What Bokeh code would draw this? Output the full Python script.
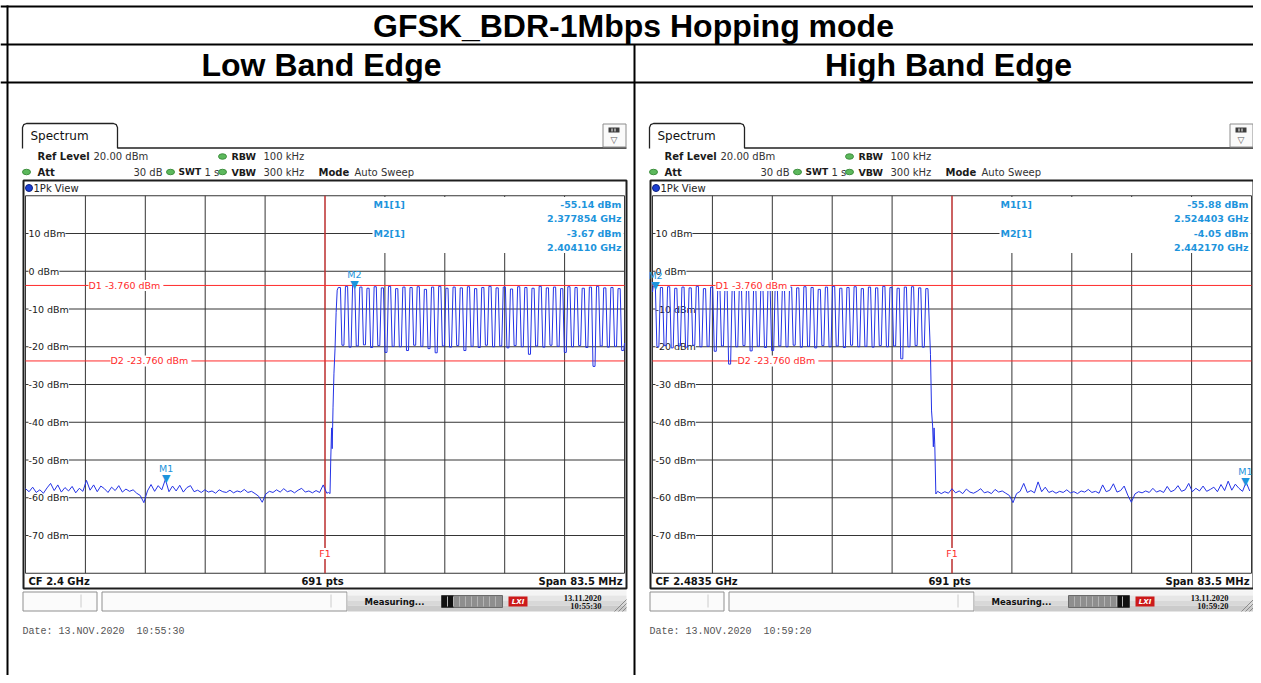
from bokeh.plotting import figure
from bokeh.models import Range1d
from bokeh.embed import file_html
from bokeh.resources import INLINE
from bokeh.core.properties import value

# ---------------- chart content / data ----------------
TITLE = "GFSK_BDR-1Mbps Hopping mode"
PANEL_TITLES = ["Low Band Edge", "High Band Edge"]

CENTER_GHZ = [2.4, 2.4835]
SPAN_GHZ = 0.0835
SWEEP_POINTS = 691
REF_LEVEL_DBM = 20.0
BOTTOM_DBM = -80.0
Y_TICKS_DBM = [10, 0, -10, -20, -30, -40, -50, -60, -70]
Y_TICK_LABELS = ["10 dBm", "0 dBm", "-10 dBm", "-20 dBm", "-30 dBm",
                 "-40 dBm", "-50 dBm", "-60 dBm", "-70 dBm"]
D1_DBM = -3.76
D2_DBM = -23.76
F1_GHZ = [2.4, 2.4835]
M1_GHZ = [2.377854, 2.524403]
M1_DBM = [-55.14, -55.88]
M2_GHZ = [2.404110, 2.442170]
M2_DBM = [-3.67, -4.05]
CF_LABELS = ["CF 2.4 GHz", "CF 2.4835 GHz"]
STATUS_DATE = "13.11.2020"
STATUS_TIMES = ["10:55:30", "10:59:20"]
PRINT_DATE = "Date: 13.NOV.2020"

# trace: low band edge (noise floor, rising edge, hopping channels)
LEFT_NOISE_START_GHZ = 2.35825
NOISE_STEP_GHZ = 0.0005
LEFT_NOISE_DBM = [
    -57.6, -58.4, -57.2, -58.6, -57.9, -58.8, -57.4, -56.2, -58.1, -56.6,
    -58.5, -57.3, -58.2, -57.0, -58.7, -57.5, -58.3, -55.4, -58.0, -56.6,
    -58.4, -56.9, -57.6, -58.6, -57.2, -58.1, -56.8, -58.5, -57.7, -58.3,
    -57.9, -58.8, -59.4, -61.3, -58.2, -56.5, -58.3, -56.8, -57.9, -55.14,
    -58.4, -56.9, -58.2, -56.7, -58.5, -57.3, -56.8, -58.4, -58.0, -58.6,
    -57.9, -58.5, -58.2, -58.8, -57.9, -58.4, -58.6, -58.0, -58.7, -58.2,
    -58.5, -57.8, -58.6, -58.3, -58.9, -59.6, -61.2, -59.0, -58.3, -58.6,
    -57.9, -58.5, -57.6, -58.4, -58.1, -58.7, -58.0, -57.5, -58.5, -58.2,
    -58.7, -58.1, -58.6, -56.6, -58.8]
LEFT_EDGE_GHZ = [2.40050, 2.40070, 2.40080, 2.40092, 2.40100, 2.40112,
                 2.40125, 2.40140, 2.40155, 2.40170]
LEFT_EDGE_DBM = [-58.6, -58.9, -50.0, -41.5, -47.0, -36.0, -27.0, -20.5, -11.0, -5.0]
LEFT_CH_MHZ = [2402, 2403, 2404, 2405, 2406, 2407, 2408, 2409, 2410, 2411,
               2412, 2413, 2414, 2415, 2416, 2417, 2418, 2419, 2420, 2421,
               2422, 2423, 2424, 2425, 2426, 2427, 2428, 2429, 2430, 2431,
               2432, 2433, 2434, 2435, 2436, 2437, 2438, 2439, 2440, 2441]
LEFT_PEAK_DBM = [-4.3, -4.0, -3.67, -4.2, -4.5, -4.1, -4.4, -4.0, -4.6, -4.2,
                 -4.3, -4.1, -4.8, -4.2, -4.0, -4.5, -4.2, -4.4, -4.1, -4.6,
                 -4.3, -4.0, -4.4, -4.2, -4.7, -4.1, -4.3, -4.5, -4.0, -4.4,
                 -4.2, -4.6, -4.1, -4.3, -4.5, -4.2, -4.0, -4.4, -4.3, -4.6]
LEFT_VALLEY_DBM = [-19.6, -20.1, -19.8, -19.5, -20.2, -19.7, -21.5, -19.9, -20.0, -21.0,
                   -19.6, -19.9, -20.5, -21.6, -19.8, -20.1, -19.7, -21.0, -19.9, -20.2,
                   -19.6, -20.0, -19.8, -20.3, -19.7, -20.0, -22.0, -19.8, -20.1, -19.6,
                   -19.9, -21.5, -20.0, -19.7, -20.2, -25.2, -19.8, -20.1, -19.9, -21.0]
LEFT_TAIL_GHZ = [2.44175]
LEFT_TAIL_DBM = [-19.0]

# trace: high band edge (hopping channels, falling edge, noise floor)
RIGHT_HEAD_GHZ = [2.44175]
RIGHT_HEAD_DBM = [-5.5]
RIGHT_CH_MHZ = [2442, 2443, 2444, 2445, 2446, 2447, 2448, 2449, 2450, 2451,
                2452, 2453, 2454, 2455, 2456, 2457, 2458, 2459, 2460, 2461,
                2462, 2463, 2464, 2465, 2466, 2467, 2468, 2469, 2470, 2471,
                2472, 2473, 2474, 2475, 2476, 2477, 2478, 2479, 2480]
RIGHT_PEAK_DBM = [-4.05, -4.3, -4.1, -4.5, -4.2, -4.4, -4.0, -4.6, -4.2, -4.3,
                  -4.1, -4.7, -4.2, -4.4, -4.0, -4.5, -4.3, -4.1, -4.6, -4.2,
                  -4.4, -4.1, -4.3, -4.8, -4.2, -4.0, -4.5, -4.3, -4.1, -4.6,
                  -4.2, -4.4, -4.0, -4.3, -4.5, -4.2, -4.1, -4.4, -4.6]
RIGHT_VALLEY_DBM = [-20.0, -19.7, -20.3, -19.8, -20.1, -19.6, -20.0, -19.9, -21.2, -19.8,
                    -24.6, -20.0, -19.7, -21.1, -19.9, -20.2, -21.0, -19.8, -20.0, -19.6,
                    -20.1, -19.9, -20.3, -19.7, -20.0, -19.8, -20.2, -19.6, -20.0, -19.9,
                    -20.1, -19.7, -20.0, -19.8, -23.2, -20.0, -19.7, -20.1]
RIGHT_EDGE_GHZ = [2.48050, 2.48065, 2.48080, 2.48090, 2.48100, 2.48110, 2.48125]
RIGHT_EDGE_DBM = [-22.0, -37.0, -41.0, -46.5, -41.5, -46.0, -59.0]
RIGHT_NOISE_START_GHZ = 2.4815
RIGHT_NOISE_DBM = [
    -58.3, -58.9, -58.4, -58.8, -57.6, -58.7, -58.2, -58.9, -57.7, -58.5,
    -58.8, -58.3, -57.6, -58.7, -58.4, -58.9, -57.8, -58.5, -58.2, -58.8,
    -59.4, -61.3, -58.9, -58.3, -56.2, -58.6, -58.1, -58.7, -55.8, -58.4,
    -57.2, -58.6, -58.2, -58.8, -58.3, -58.6, -57.9, -58.7, -58.4, -58.9,
    -58.2, -58.5, -57.8, -58.6, -58.3, -58.8, -56.6, -58.4, -58.0, -56.3,
    -58.5, -58.1, -56.9, -59.3, -61.2, -59.0, -58.4, -58.7, -58.2, -58.6,
    -57.5, -58.5, -58.1, -58.6, -57.0, -58.4, -58.0, -56.8, -58.3, -57.9,
    -56.2, -58.4, -57.5, -58.2, -56.9, -58.3, -57.8, -57.2, -58.4, -56.5,
    -58.1, -55.6, -58.0, -56.4, -57.5, -58.3, -55.88, -58.2]

# ---------------- layout (page pixels) ----------------
WIN_L, WIN_T, WIN_R, WIN_B = 0, 0, 1253, 675
GL0, GR0, GT, GB = 25.0, 624.0, 195.25, 572.75
PANEL_DX = 627

TRACE_COLOR = "#2433e6"
RED = "#ff2b2b"
MK_BLUE = "#1d94dc"
GRID_COLOR = "#353535"
SANS = "DejaVu Sans"

p = figure(width=WIN_R - WIN_L, height=WIN_B - WIN_T,
           x_range=Range1d(WIN_L, WIN_R), y_range=Range1d(WIN_B, WIN_T),
           x_axis_type=None, y_axis_type=None, toolbar_location=None,
           output_backend="svg", min_border=0, outline_line_color=None)
p.background_fill_color = "white"
p.border_fill_color = "white"

fpp = SPAN_GHZ / (GR0 - GL0)
dpp = (REF_LEVEL_DBM - BOTTOM_DBM) / (GB - GT)
p.extra_y_ranges = {"dbm": Range1d(BOTTOM_DBM - (WIN_B - GB) * dpp,
                                   REF_LEVEL_DBM + (GT - WIN_T) * dpp)}
xr = {}
for k, cf in enumerate(CENTER_GHZ):
    fs, fe = cf - SPAN_GHZ / 2, cf + SPAN_GHZ / 2
    gl, gr = GL0 + k * PANEL_DX, GR0 + k * PANEL_DX
    xr[f"f{k}"] = Range1d(fs - (gl - WIN_L) * fpp, fe + (WIN_R - gr) * fpp)
p.extra_x_ranges = xr


def T(x, y, s, size, color="#1a1a1a", font=SANS, style="normal", align="left",
      baseline="middle", **kw):
    p.text(x=[x], y=[y], text=[s], text_font=value(font), text_font_size=f"{size}px",
           text_font_style=style, text_color=color, text_align=align,
           text_baseline=baseline, **kw)


def hop_trace(ch_mhz, peaks, valleys):
    f, d = [], []
    for i, (c, pk) in enumerate(zip(ch_mhz, peaks)):
        f += [(c - 0.15) / 1000, (c + 0.15) / 1000]
        d += [pk, pk]
        if i < len(valleys):
            f += [(c + 0.36) / 1000, (c + 0.64) / 1000]
            d += [valleys[i], valleys[i]]
    return f, d


# ---------------- table and titles ----------------
p.segment(x0=[WIN_L] * 3, x1=[WIN_R] * 3, y0=[6, 44, 82], y1=[6, 44, 82],
          line_color="black", line_width=2)
p.segment(x0=[7, 634], x1=[7, 634], y0=[5, 44], y1=[WIN_B, WIN_B],
          line_color="black", line_width=2)
T(633, 25.5, TITLE, 32, color="black", font="Liberation Sans", style="bold",
  align="center")
T(321, 64, PANEL_TITLES[0], 32, color="black", font="Liberation Sans", style="bold",
  align="center")
T(948, 64, PANEL_TITLES[1], 32, color="black", font="Liberation Sans", style="bold",
  align="center")

# ---------------- traces ----------------
lf_hop, ld_hop = hop_trace(LEFT_CH_MHZ, LEFT_PEAK_DBM, LEFT_VALLEY_DBM)
left_f = [LEFT_NOISE_START_GHZ + i * NOISE_STEP_GHZ for i in range(len(LEFT_NOISE_DBM))]
left_f += LEFT_EDGE_GHZ + lf_hop + LEFT_TAIL_GHZ
left_d = LEFT_NOISE_DBM + LEFT_EDGE_DBM + ld_hop + LEFT_TAIL_DBM

rf_hop, rd_hop = hop_trace(RIGHT_CH_MHZ, RIGHT_PEAK_DBM, RIGHT_VALLEY_DBM)
right_f = RIGHT_HEAD_GHZ + rf_hop + RIGHT_EDGE_GHZ
right_f += [RIGHT_NOISE_START_GHZ + i * NOISE_STEP_GHZ for i in range(len(RIGHT_NOISE_DBM))]
right_d = RIGHT_HEAD_DBM + rd_hop + RIGHT_EDGE_DBM + RIGHT_NOISE_DBM

TRACES = [(left_f, left_d), (right_f, right_d)]


def panel(k):
    ox = k * PANEL_DX
    X = lambda v: v + ox
    xn = f"f{k}"
    fs = CENTER_GHZ[k] - SPAN_GHZ / 2
    fe = CENTER_GHZ[k] + SPAN_GHZ / 2

    # tab + header line
    p.line(x=[X(v) for v in [22, 22, 23.2, 26, 113, 115.8, 117, 117, 626]],
           y=[148, 127, 124.2, 123, 123, 124.2, 127, 147.5, 147.5],
           line_color="#222222", line_width=1.3)
    T(X(30), 135.5, "Spectrum", 12, color="#111111")
    # icon
    p.quad(left=X(602.5), right=X(625.5), top=123.5, bottom=146.5,
           fill_color="#fafafa", line_color="#8c8c8c")
    p.quad(left=X(608), right=X(619), top=127, bottom=132, fill_color="#3c3c3c", line_color=None)
    p.segment(x0=[X(611.5), X(614.5)], x1=[X(611.5), X(614.5)], y0=[128, 128], y1=[131, 131],
              line_color="white", line_width=1)
    T(X(613.5), 139.5, "▽", 9, color="#555555", align="center")

    # header rows
    p.ellipse(x=[X(222), X(26), X(170), X(222)], y=[156, 171.5, 171.5, 171.5],
              width=8, height=5.5, fill_color="#5cb85c", line_color="#3f8f3f")
    T(X(37), 156, "Ref Level", 10, style="bold")
    T(X(93), 156, f"{REF_LEVEL_DBM:.2f} dBm", 10, color="#333333")
    T(X(231), 156, "RBW", 9.5, style="bold")
    T(X(263), 156, "100 kHz", 10, color="#333333")
    T(X(37), 171.5, "Att", 10, style="bold")
    T(X(162), 171.5, "30 dB", 10, color="#333333", align="right")
    T(X(178), 171.5, "SWT", 9, style="bold")
    T(X(204), 171.5, "1 s", 10, color="#333333")
    T(X(231), 171.5, "VBW", 9.5, style="bold")
    T(X(263), 171.5, "300 kHz", 10, color="#333333")
    T(X(318), 171.5, "Mode", 10, style="bold")
    T(X(354), 171.5, "Auto Sweep", 10, color="#333333")

    # diagram box
    p.quad(left=X(23), right=X(626), top=180, bottom=588, fill_color="white",
           line_color="#1e1e1e", line_width=2)
    p.scatter(x=[X(28.5)], y=[187.5], size=7, marker="circle",
              fill_color="#1b3fd2", line_color="#0c1f80")
    T(X(33), 187.5, "1Pk View", 10, color="#222222")

    # grid
    vx = [fs + SPAN_GHZ * i / 10 for i in range(1, 10)]
    p.segment(x0=vx, x1=vx, y0=[BOTTOM_DBM] * 9, y1=[REF_LEVEL_DBM] * 9,
              x_range_name=xn, y_range_name="dbm", line_color=GRID_COLOR, line_width=1)
    p.segment(x0=[fs] * len(Y_TICKS_DBM), x1=[fe] * len(Y_TICKS_DBM),
              y0=Y_TICKS_DBM, y1=Y_TICKS_DBM,
              x_range_name=xn, y_range_name="dbm", line_color=GRID_COLOR, line_width=1)
    p.quad(left=[fs], right=[fe], top=[REF_LEVEL_DBM], bottom=[BOTTOM_DBM],
           x_range_name=xn, y_range_name="dbm", fill_color=None,
           line_color=GRID_COLOR, line_width=1)
    # marker info area
    p.quad(left=X(372), right=X(623.3), top=196.5, bottom=252.5,
           fill_color="white", line_color=None)
    p.text(x=[fs] * len(Y_TICKS_DBM), y=Y_TICKS_DBM, text=Y_TICK_LABELS,
           x_range_name=xn, y_range_name="dbm", x_offset=3,
           text_font=value(SANS), text_font_size="9.5px", text_color="#1a1a1a",
           text_baseline="middle", background_fill_color="white")

    # display lines and frequency line
    p.segment(x0=[fs, fs], x1=[fe, fe], y0=[D1_DBM, D2_DBM], y1=[D1_DBM, D2_DBM],
              x_range_name=xn, y_range_name="dbm", line_color=RED, line_width=1)
    p.segment(x0=[F1_GHZ[k]], x1=[F1_GHZ[k]], y0=[BOTTOM_DBM], y1=[REF_LEVEL_DBM],
              x_range_name=xn, y_range_name="dbm", line_color=RED, line_width=1)

    # trace
    tf, td = TRACES[k]
    p.line(x=tf, y=td, x_range_name=xn, y_range_name="dbm",
           line_color=TRACE_COLOR, line_width=1)

    # labels on red lines
    p.text(x=[X(88), X(110)], y=[D1_DBM, D2_DBM],
           text=[f"D1  {D1_DBM:.3f} dBm", f"D2  {D2_DBM:.3f} dBm"],
           y_range_name="dbm", text_font=value(SANS), text_font_size="9.5px",
           text_color=RED, text_baseline="middle", background_fill_color="white")
    p.text(x=[F1_GHZ[k]], y=[553], text=["F1"], x_range_name=xn,
           text_font=value(SANS), text_font_size="9.5px", text_color=RED,
           text_align="center", text_baseline="middle", background_fill_color="white")

    # markers
    mx, my = [M1_GHZ[k], M2_GHZ[k]], [M1_DBM[k], M2_DBM[k]]
    p.text(x=mx, y=my, text=["▼", "▼"], x_range_name=xn, y_range_name="dbm",
           text_font=value(SANS), text_font_size="11px", text_color=MK_BLUE,
           text_align="center", text_baseline="alphabetic", y_offset=-1)
    p.text(x=mx, y=my, text=["M1", "M2"], x_range_name=xn, y_range_name="dbm",
           text_font=value(SANS), text_font_size="9.5px", text_color=MK_BLUE,
           text_align="center", text_baseline="alphabetic", y_offset=-11)

    # marker table
    T(X(373), 204, "M1[1]", 9.5, color=MK_BLUE, style="bold")
    T(X(621), 204, f"{M1_DBM[k]:.2f} dBm", 9.5, color=MK_BLUE, style="bold", align="right")
    T(X(621), 218, f"{M1_GHZ[k]:.6f} GHz", 9.5, color=MK_BLUE, style="bold", align="right")
    T(X(373), 233, "M2[1]", 9.5, color=MK_BLUE, style="bold")
    T(X(621), 233, f"{M2_DBM[k]:.2f} dBm", 9.5, color=MK_BLUE, style="bold", align="right")
    T(X(621), 247, f"{M2_GHZ[k]:.6f} GHz", 9.5, color=MK_BLUE, style="bold", align="right")

    # bottom row
    T(X(28), 580.5, CF_LABELS[k], 10, color="#111111", style="bold")
    T(X(322), 580.5, f"{SWEEP_POINTS} pts", 10, color="#111111", style="bold", align="center")
    T(X(622), 580.5, f"Span {SPAN_GHZ * 1000:.1f} MHz", 10, color="#111111",
      style="bold", align="right")

    # status bar
    p.quad(left=[X(22.5), X(101.5)], right=[X(96.5), X(346.5)], top=[591.5, 591.5],
           bottom=[610.5, 610.5], fill_color="#fbfbfb", line_color="#8f8f8f")
    p.segment(x0=[X(80.5), X(330.5)], x1=[X(80.5), X(330.5)], y0=[594, 594], y1=[607, 607],
              line_color="#cccccc")
    p.quad(left=[X(347)] * 4, right=[X(626)] * 4, top=[590, 595, 600, 605],
           bottom=[595, 600, 605, 611],
           fill_color=["#f4f4f4", "#e6e6e6", "#d8d8d8", "#cbcbcb"], line_color=None)
    T(X(364), 601, "Measuring...", 8.5, color="#111111", style="bold")
    p.quad(left=X(441), right=X(502), top=595, bottom=607, fill_color="#8e8e8e",
           line_color="#6a6a6a")
    dark_l = X(441) if k == 0 else X(490)
    p.quad(left=dark_l, right=dark_l + 12, top=595, bottom=607, fill_color="#101010",
           line_color=None)
    sx = [X(v) for v in [447, 453, 459, 465, 471, 477, 483, 489, 495]]
    p.segment(x0=sx, x1=sx, y0=[596] * 9, y1=[606] * 9, line_color="#b4b4b4", line_width=1)
    p.quad(left=X(508), right=X(527), top=596, bottom=606, fill_color="#cc1a1a", line_color=None)
    T(X(517.5), 601.5, "LXI", 7, color="white", style="bold italic", align="center")
    T(X(601), 597.5, STATUS_DATE, 8.5, color="#111111", font="Liberation Serif",
      style="bold", align="right")
    T(X(601), 605.5, STATUS_TIMES[k], 8.5, color="#111111", font="Liberation Serif",
      style="bold", align="right")
    p.segment(x0=[X(626), X(626), X(626)], x1=[X(614), X(618), X(622)],
              y0=[599, 603, 607], y1=[611, 611, 611], line_color="#8a8a8a")

    # print date (date and time separated by two character cells)
    T(X(22), 631, PRINT_DATE, 10, color="#555555", font="Liberation Mono")
    T(X(136), 631, STATUS_TIMES[k], 10, color="#555555", font="Liberation Mono")


panel(0)
panel(1)

open("out.html", "w").write(file_html(p, INLINE))
